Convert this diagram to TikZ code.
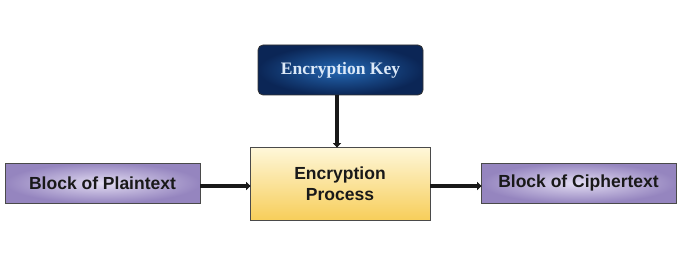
\documentclass[tikz,border=0pt]{standalone}
\usepackage{fontspec}
\setmainfont{Liberation Serif}
\newfontfamily\arialf{Liberation Sans}
\usetikzlibrary{arrows.meta,shadings}
\definecolor{keyin}{HTML}{2468B4}
\definecolor{keyout}{HTML}{0B2656}
\definecolor{keytext}{HTML}{DCE9F8}
\definecolor{purin}{HTML}{E2DCF2}
\definecolor{purout}{HTML}{9585BF}
\definecolor{yeltop}{HTML}{FEF7DA}
\definecolor{yelbot}{HTML}{F7CE5A}
\definecolor{bord}{HTML}{4A4A4A}
\tikzset{
  blockbox/.style={draw=bord, line width=0.8pt, inner color=purin, outer color=purout,
    minimum width=195pt, minimum height=40pt, font=\arialf\bfseries\fontsize{17.5}{21}\selectfont, text=black!90},
  procbox/.style={draw=bord, line width=0.8pt, top color=yeltop, bottom color=yelbot,
    minimum width=180pt, minimum height=73pt, align=center,
    font=\arialf\bfseries\fontsize{17.5}{21}\selectfont, text=black!90},
  keybox/.style={draw=black!80, line width=0.8pt, rounded corners=5pt, inner color=keyin, outer color=keyout,
    minimum width=165pt, minimum height=50pt, font=\bfseries\fontsize{17.5}{21}\selectfont, text=keytext},
  arr/.style={line width=3.8pt, black!90, -{Triangle[length=4.5pt,width=8pt]}, shorten >=-1pt},
}
\begin{document}
\begin{tikzpicture}[x=1pt,y=1pt]
\useasboundingbox (0,0) rectangle (700,268);
\node[keybox] (key) at (340.5,198) {Encryption Key};
\node[procbox] (proc) at (340,84.5) {Encryption\\Process};
\node[blockbox] (plain) at (102.5,85) {Block of Plaintext};
\node[blockbox] (ciph) at (578.5,85) {Block of Ciphertext};
\draw[arr] ([xshift=-3.5pt]key.south) -- ([xshift=-3pt]proc.north);
\draw[arr] ([yshift=-3pt]plain.east) -- ([yshift=-2.5pt]proc.west);
\draw[arr] ([yshift=-2.5pt]proc.east) -- ([yshift=-3pt]ciph.west);
\end{tikzpicture}
\end{document}
